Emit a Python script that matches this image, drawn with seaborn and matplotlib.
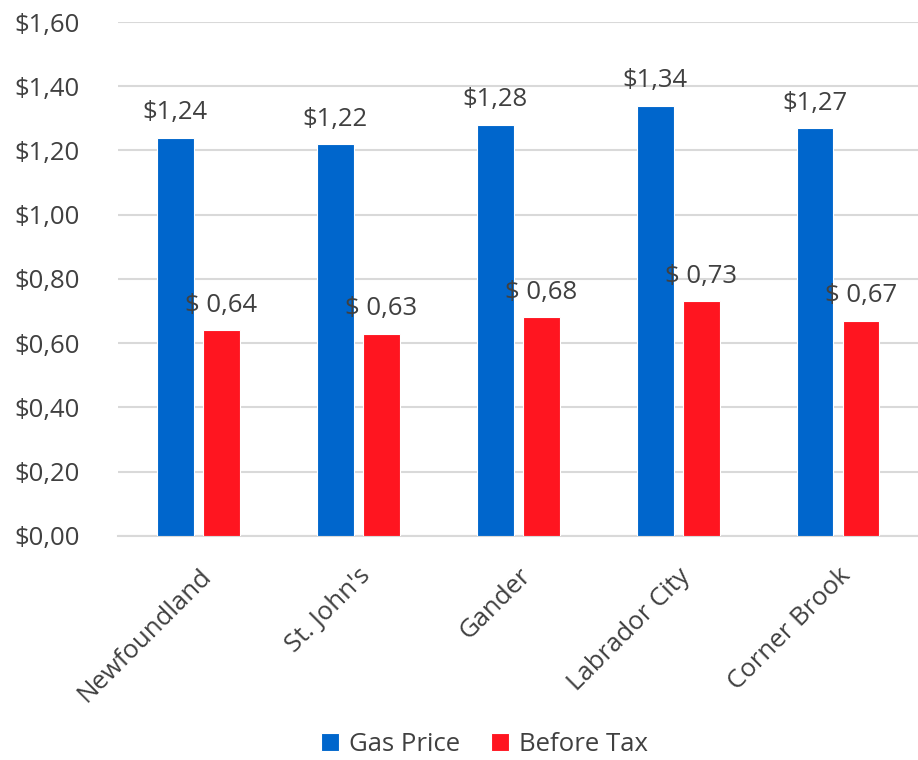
import pandas as pd
import seaborn as sns
import matplotlib.pyplot as plt
from matplotlib.ticker import FuncFormatter

cities = ['Newfoundland', "St. John's", 'Gander', 'Labrador City', 'Corner Brook']
gas_price = [1.24, 1.22, 1.28, 1.34, 1.27]
before_tax = [0.64, 0.63, 0.68, 0.73, 0.67]
series = ['Gas Price', 'Before Tax']

df = pd.DataFrame({
    'city': cities * 2,
    'price': gas_price + before_tax,
    'series': [series[0]] * len(cities) + [series[1]] * len(cities),
})

sns.set_style('white')
plt.rcParams['font.family'] = ['Open Sans', 'DejaVu Sans']
txt = '#404040'
fs = 18.5

fig = plt.figure(figsize=(9.18, 7.6), dpi=100)
ax = fig.add_axes([0.129, 0.295, 0.871, 0.676])

sns.barplot(data=df, x='city', y='price', hue='series', hue_order=series,
            palette=['#0066CC', '#FF1520'], saturation=1, width=0.575, gap=0.2,
            edgecolor='white', linewidth=0.8, ax=ax, zorder=3)

for cont, fmt in zip(ax.containers, ['${:.2f}', '$ {:.2f}']):
    labels = [fmt.format(v).replace('.', ',') for v in cont.datavalues]
    ax.bar_label(cont, labels=labels, padding=9, fontsize=fs, color=txt)

ax.set_ylim(0, 1.6)
ax.set_yticks([i * 0.2 for i in range(9)])
ax.yaxis.set_major_formatter(FuncFormatter(lambda v, p: '${:.2f}'.format(v).replace('.', ',')))
ax.set_xlim(-0.5, 4.5)
ax.grid(axis='y', color='#D9D9D9', linewidth=1.5, zorder=0)
ax.set_axisbelow(True)
for s in ['left', 'right', 'top']:
    ax.spines[s].set_visible(False)
ax.spines['bottom'].set_color('#D9D9D9')
ax.spines['bottom'].set_linewidth(1.5)
ax.tick_params(axis='both', length=0, labelsize=fs, colors=txt)
ax.tick_params(axis='y', pad=28)
ax.tick_params(axis='x', pad=20)
ax.set_xlabel('')
ax.set_ylabel('')
plt.setp(ax.get_xticklabels(), rotation=45, ha='right', rotation_mode='anchor')

ax.legend(loc='lower center', bbox_to_anchor=(0.458, -0.475), ncol=2, frameon=False,
          fontsize=fs, handlelength=0.7, handleheight=0.7, handletextpad=0.4,
          columnspacing=1.2, labelcolor=txt)

fig.savefig('out.png', dpi=100)
